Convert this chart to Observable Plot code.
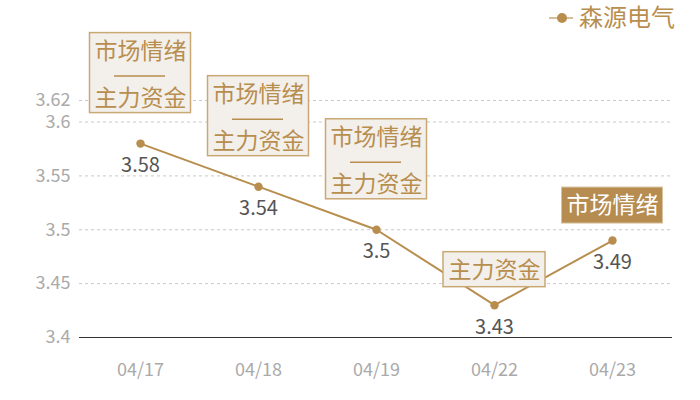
<!DOCTYPE html>
<html>
<head>
<meta charset="utf-8">
<script src="https://cdn.jsdelivr.net/npm/d3@7"></script>
<script src="https://cdn.jsdelivr.net/npm/@observablehq/plot@0.6"></script>
<style>
  html, body { margin: 0; padding: 0; background: #fff; }
</style>
</head>
<body>
<div id="chart"></div>
<script>
const seriesName = "森源电气";
const dates = ["04/17", "04/18", "04/19", "04/22", "04/23"];
const prices = [3.58, 3.54, 3.5, 3.43, 3.49];
const moodTag = [true, true, true, false, true];   // 市场情绪
const fundTag = [true, true, true, true, false];   // 主力资金
const moodLabel = "市场情绪";
const fundLabel = "主力资金";
const yTicks = [3.4, 3.45, 3.5, 3.55, 3.6, 3.62];

const gold = "#b88e4f";
const font = "'Noto Sans CJK SC', 'Noto Sans', sans-serif";

const rows = dates.map((d, i) => ({date: d, price: prices[i], mood: moodTag[i], fund: fundTag[i]}));
const both = rows.filter(r => r.mood && r.fund);
const fundOnly = rows.filter(r => r.fund && !r.mood);
const moodOnly = rows.filter(r => r.mood && !r.fund);

function decorations(index, scales, values, dimensions) {
  const g = d3.create("svg:g");
  // annotation boxes
  for (const r of rows) {
    const px = scales.x(r.date), py = scales.y(r.price);
    if (r.mood && r.fund) {
      g.append("rect").attr("x", px - 50.5).attr("y", py - 110.5).attr("width", 101).attr("height", 80)
        .attr("fill", "#f3f0eb").attr("stroke", "#c9a874").attr("stroke-width", 1.5);
      g.append("line").attr("x1", px - 26).attr("x2", px + 25).attr("y1", py - 67).attr("y2", py - 67)
        .attr("stroke", gold).attr("stroke-width", 1.5);
    } else if (r.fund) {
      g.append("rect").attr("x", px - 51).attr("y", py - 53).attr("width", 102).attr("height", 35)
        .attr("fill", "#f3f0eb").attr("stroke", "#c9a874").attr("stroke-width", 1.5);
    } else if (r.mood) {
      g.append("rect").attr("x", px - 50.5).attr("y", py - 53).attr("width", 101).attr("height", 36)
        .attr("fill", "#b68c50").attr("stroke", "#d8c39e").attr("stroke-width", 1);
    }
  }
  // legend
  const lg = g.append("g");
  lg.append("line").attr("x1", 549).attr("x2", 573).attr("y1", 18).attr("y2", 18)
    .attr("stroke", "#d6bf98").attr("stroke-width", 2);
  lg.append("circle").attr("cx", 562).attr("cy", 18).attr("r", 5).attr("fill", gold);
  lg.append("text").attr("x", 579).attr("y", 18).attr("dy", "0.35em").attr("text-anchor", "start")
    .attr("fill", gold).attr("font-size", 24).attr("font-family", font).text(seriesName);
  return g.node();
}

const chart = Plot.plot({
  width: 700,
  height: 400,
  marginLeft: 79,
  marginRight: 28,
  marginTop: 100,
  marginBottom: 63,
  style: {fontFamily: font, fontSize: "18px", color: "#aaa", background: "#fff"},
  x: {type: "point", domain: dates, padding: 0.5, label: null, tickSize: 0, tickPadding: 26},
  y: {domain: [3.4, 3.62], ticks: yTicks, tickFormat: d => String(d), label: null, tickSize: 0, tickPadding: 9},
  marks: [
    Plot.ruleY(yTicks.filter(v => v > 3.4), {stroke: "#c8c8c8", strokeDasharray: "3,3", strokeWidth: 1}),
    Plot.ruleY([3.4], {stroke: "#333", strokeWidth: 1.2}),
    Plot.line(rows, {x: "date", y: "price", stroke: gold, strokeWidth: 2}),
    Plot.dot(rows, {x: "date", y: "price", r: 4.2, fill: gold}),
    Plot.text(rows, {x: "date", y: "price", text: d => String(d.price), dy: 22, fill: "#555", fontSize: 20}),
    decorations,
    Plot.text(both, {x: "date", y: "price", text: () => moodLabel, dy: -92, fill: gold, fontSize: 23}),
    Plot.text(both, {x: "date", y: "price", text: () => fundLabel, dy: -45, fill: gold, fontSize: 23}),
    Plot.text(fundOnly, {x: "date", y: "price", text: () => fundLabel, dy: -35, fill: gold, fontSize: 23}),
    Plot.text(moodOnly, {x: "date", y: "price", text: () => moodLabel, dy: -35, fill: "#fff", fontSize: 23})
  ]
});
document.getElementById("chart").appendChild(chart);
</script>
</body>
</html>
